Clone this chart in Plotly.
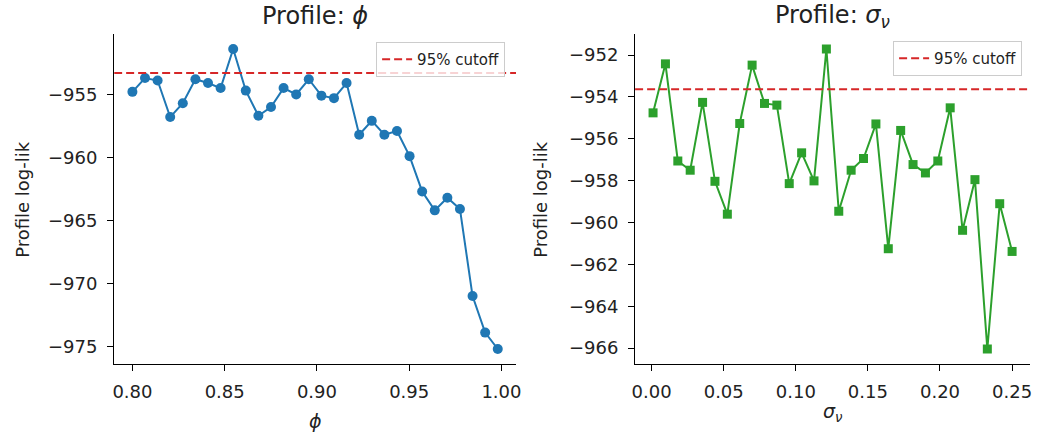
import numpy as np
import plotly.graph_objects as go

# ---- data ----
phi_grid = np.linspace(0.80, 0.998, 30)
phi_loglik = [-954.8, -953.7, -953.9, -956.8, -955.7, -953.8, -954.1, -954.5, -951.4, -954.7,
              -956.7, -956.0, -954.5, -955.0, -953.8, -955.1, -955.3, -954.1, -958.2, -957.1,
              -958.2, -957.9, -959.9, -962.7, -964.2, -963.2, -964.1, -971.0, -973.9, -975.2]
phi_cutoff = -953.3

sig_grid = np.linspace(0.001, 0.25, 30)
sig_loglik = [-954.76, -952.42, -957.06, -957.5, -954.26, -958.03, -959.6, -955.27, -952.48, -954.31,
              -954.39, -958.14, -956.67, -958.01, -951.71, -959.46, -957.5, -956.94, -955.29, -961.25,
              -955.6, -957.23, -957.63, -957.06, -954.52, -960.37, -957.95, -966.04, -959.1, -961.38]
sig_cutoff = -953.63

phi_xticks = [0.80, 0.85, 0.90, 0.95, 1.00]
sig_xticks = [0.00, 0.05, 0.10, 0.15, 0.20, 0.25]

W, H = 1041, 435
FONT = "DejaVu Sans"
BLUE, GREEN, RED = "#1f77b4", "#2ca02c", "#d62728"


def px(x):
    return x / W


def py(y):
    return 1 - y / H


def pad(lo, hi, frac=0.05):
    d = hi - lo
    return [lo - frac * d, hi + frac * d]


x1r = pad(min(phi_grid), max(phi_grid))
x2r = pad(min(sig_grid), max(sig_grid))
y1r = pad(min(phi_loglik), max(phi_loglik))
y2r = pad(min(sig_loglik), max(sig_loglik))

fig = go.Figure()
fig.add_trace(go.Scatter(x=phi_grid, y=phi_loglik, mode="lines+markers",
                         line=dict(color=BLUE, width=2), marker=dict(color=BLUE, size=10, symbol="circle"),
                         xaxis="x", yaxis="y", showlegend=False))
fig.add_trace(go.Scatter(x=x1r, y=[phi_cutoff, phi_cutoff], mode="lines", name="95% cutoff",
                         line=dict(color=RED, width=2, dash="8px,4px"), xaxis="x", yaxis="y",
                         legend="legend"))
fig.add_trace(go.Scatter(x=sig_grid, y=sig_loglik, mode="lines+markers",
                         line=dict(color=GREEN, width=2), marker=dict(color=GREEN, size=9, symbol="square"),
                         xaxis="x2", yaxis="y2", showlegend=False))
fig.add_trace(go.Scatter(x=x2r, y=[sig_cutoff, sig_cutoff], mode="lines", name="95% cutoff",
                         line=dict(color=RED, width=2, dash="8px,4px"), xaxis="x2", yaxis="y2",
                         legend="legend2"))

ydom = [py(364), py(34)]
axis_common = dict(showline=True, linecolor="black", linewidth=1.3, ticks="outside", ticklen=6,
                   tickwidth=1.3, tickcolor="black", showgrid=False, zeroline=False,
                   tickfont=dict(family=FONT, size=18, color="#222"))

legend_common = dict(xanchor="right", yanchor="top", bgcolor="rgba(255,255,255,0.8)",
                     bordercolor="#cccccc", borderwidth=1, itemwidth=30,
                     font=dict(family=FONT, size=15, color="#222"))

fig.update_layout(
    width=W, height=H,
    margin=dict(l=0, r=0, t=0, b=0),
    paper_bgcolor="white", plot_bgcolor="white",
    font=dict(family=FONT, color="#222"),
    xaxis=dict(domain=[px(112), px(517)], range=x1r, tickvals=phi_xticks, tickformat=".2f",
               anchor="y", ticklabelstandoff=5, **axis_common),
    yaxis=dict(domain=ydom, range=y1r, dtick=5, anchor="x", ticklabelstandoff=6, **axis_common),
    xaxis2=dict(domain=[px(637), px(1035)], range=x2r, tickvals=sig_xticks, tickformat=".2f",
                anchor="y2", ticklabelstandoff=5, **axis_common),
    yaxis2=dict(domain=ydom, range=y2r, dtick=2, anchor="x2", ticklabelstandoff=6, **axis_common),
    legend=dict(x=px(506), y=py(42), **legend_common),
    legend2=dict(x=px(1027), y=py(41), **legend_common),
)

ann = [
    dict(text="Profile: <i>ϕ</i>", x=314.5, y=16, size=24, angle=0),
    dict(text="Profile: <i>σ</i><sub><i>ν</i></sub>", x=836, y=16, size=24, angle=0),
    dict(text="<i>ϕ</i>", x=314.5, y=421, size=19, angle=0),
    dict(text="<i>σ</i><sub><i>ν</i></sub>", x=836, y=412, size=19, angle=0),
    dict(text="Profile log-lik", x=20, y=199, size=18, angle=-90),
    dict(text="Profile log-lik", x=542, y=199, size=18, angle=-90),
]
for a in ann:
    fig.add_annotation(text=a["text"], x=px(a["x"]), y=py(a["y"]), xref="paper", yref="paper",
                       xanchor="center", yanchor="middle", showarrow=False, textangle=a["angle"],
                       font=dict(family=FONT, size=a["size"], color="#222"))

# remove the default 8px page margin so the figure sits at the window's top-left corner
fig.write_html("out.html", config={"displayModeBar": False},
               post_script="document.body.style.margin='0px';")
